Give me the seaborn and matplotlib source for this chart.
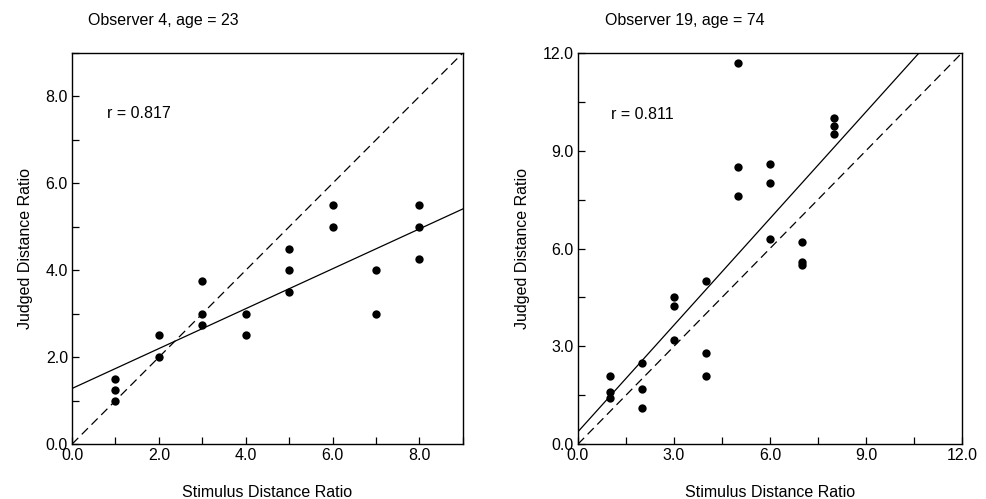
import numpy as np
import pandas as pd
import matplotlib
matplotlib.use("Agg")
import matplotlib.pyplot as plt
import seaborn as sns
from matplotlib.ticker import MultipleLocator, FormatStrFormatter

sns.set_style("ticks")
plt.rcParams['font.family'] = ['Liberation Sans', 'DejaVu Sans']
plt.rcParams['text.color'] = 'black'
plt.rcParams['axes.labelcolor'] = 'black'
plt.rcParams['xtick.color'] = 'black'
plt.rcParams['ytick.color'] = 'black'
plt.rcParams['axes.edgecolor'] = 'black'

# Observer 4, age = 23
stim_4 = [1, 1, 1, 2, 2, 3, 3, 3, 4, 4, 5, 5, 5, 6, 6, 7, 7, 8, 8, 8]
judged_4 = [1.5, 1.25, 1.0, 2.5, 2.0, 3.75, 3.0, 2.75, 3.0, 2.5,
            4.5, 4.0, 3.5, 5.5, 5.0, 4.0, 3.0, 5.5, 5.0, 4.25]
fit_4 = (1.28, 0.459)   # intercept, slope
r_4 = "r = 0.817"

# Observer 19, age = 74
stim_19 = [1, 1, 1, 2, 2, 2, 3, 3, 3, 4, 4, 4, 5, 5, 5, 6, 6, 6, 7, 7, 7, 8, 8, 8]
judged_19 = [2.1, 1.6, 1.4, 2.5, 1.7, 1.1, 4.5, 4.25, 3.2, 5.0, 2.8, 2.1,
             11.7, 8.5, 7.6, 8.6, 8.0, 6.3, 6.2, 5.6, 5.5, 10.0, 9.75, 9.5]
fit_19 = (0.38, 1.09)
r_19 = "r = 0.811"

panels = [
    dict(x=stim_4, y=judged_4, fit=fit_4, r=r_4, title="Observer 4, age = 23",
         lim=9, major=2, minor=1, rpos=(0.80, 7.6), tx=0.0892,
         rect=[0.073, 0.110, 0.396, 0.784]),
    dict(x=stim_19, y=judged_19, fit=fit_19, r=r_19, title="Observer 19, age = 74",
         lim=12, major=3, minor=1.5, rpos=(1.03, 10.1), tx=0.613,
         rect=[0.5856, 0.110, 0.389, 0.784]),
]

fs = 11.5

fig = plt.figure(figsize=(9.87, 4.99), dpi=100)

for p in panels:
    ax = fig.add_axes(p["rect"])
    df = pd.DataFrame({"x": p["x"], "y": p["y"]})
    sns.scatterplot(data=df, x="x", y="y", ax=ax, color="black", s=36,
                    edgecolor="black", linewidth=0, zorder=3)
    xs = np.array([0, p["lim"]])
    b, m = p["fit"]
    sns.lineplot(x=xs, y=b + m * xs, ax=ax, color="black", linewidth=0.9)
    sns.lineplot(x=xs, y=xs, ax=ax, color="black", linewidth=0.9,
                 linestyle=(0, (7, 4)))
    ax.set_xlim(0, p["lim"])
    ax.set_ylim(0, p["lim"])
    for axis in (ax.xaxis, ax.yaxis):
        axis.set_major_locator(MultipleLocator(p["major"]))
        axis.set_minor_locator(MultipleLocator(p["minor"]))
        axis.set_major_formatter(FormatStrFormatter("%.1f"))
    ax.tick_params(which="both", direction="in", length=5, width=0.9,
                   labelsize=fs, pad=3, top=False, right=False)
    ax.tick_params(which="minor", length=5)
    ax.set_xlabel("Stimulus Distance Ratio", fontsize=fs, labelpad=16)
    ax.set_ylabel("Judged Distance Ratio", fontsize=fs, labelpad=9)
    for s in ax.spines.values():
        s.set_linewidth(1.0)
        s.set_visible(True)
    ax.text(p["rpos"][0], p["rpos"][1], p["r"], fontsize=fs, va="center")
    fig.text(p["tx"], 0.958, p["title"], fontsize=fs, va="center")

fig.savefig("out.png", dpi=100)
